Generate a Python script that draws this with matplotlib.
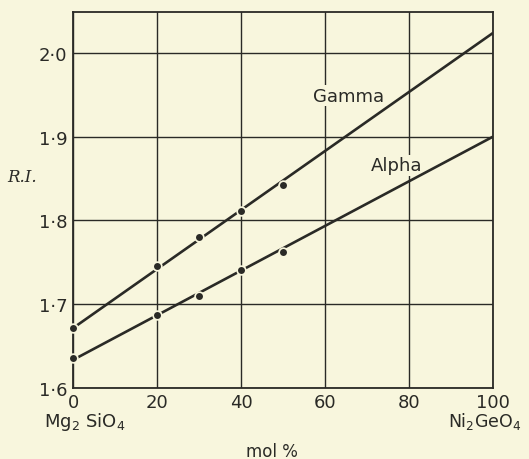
import matplotlib
matplotlib.use("Agg")
import matplotlib.pyplot as plt

# Data
mol_pct = [0, 20, 30, 40, 50]
gamma_pts = [1.671, 1.745, 1.780, 1.811, 1.842]
alpha_pts = [1.635, 1.687, 1.710, 1.740, 1.762]
line_x = [0, 100]
gamma_line = [1.671, 2.024]
alpha_line = [1.633, 1.900]
x_ticks = [0, 20, 40, 60, 80, 100]
y_ticks = [1.6, 1.7, 1.8, 1.9, 2.0]
y_tick_labels = ["1·6", "1·7", "1·8", "1·9", "2·0"]

bg = "#f8f6dd"
ink = "#2a2a26"

fig = plt.figure(figsize=(5.29, 4.60), dpi=100, facecolor=bg)
ax = fig.add_axes([0.138, 0.1554, 0.794, 0.8163], facecolor=bg)

ax.set_xlim(0, 100)
ax.set_ylim(1.6, 2.049)
ax.set_xticks(x_ticks)
ax.set_xticklabels([str(v) for v in x_ticks])
ax.set_yticks(y_ticks)
ax.set_yticklabels(y_tick_labels)
ax.tick_params(length=0, pad=4, labelsize=13, colors=ink)
ax.grid(True, color=ink, linewidth=1.0)
ax.set_axisbelow(True)
for s in ax.spines.values():
    s.set_color(ink)
    s.set_linewidth(1.3)

for ly, py in ((gamma_line, gamma_pts), (alpha_line, alpha_pts)):
    ax.plot(line_x, ly, color=ink, linewidth=1.9, solid_capstyle="butt", zorder=3)
    ax.plot(mol_pct, py, linestyle="none", marker="o", markersize=7.5,
            color=bg, markeredgewidth=0, zorder=4, clip_on=False)
    ax.plot(mol_pct, py, linestyle="none", marker="o", markersize=5,
            color=ink, markeredgewidth=0, zorder=5, clip_on=False)

ax.text(65.5, 1.949, "Gamma", fontsize=13, color=ink, ha="center", va="center",
        zorder=2, bbox=dict(facecolor=bg, edgecolor="none", pad=1))
ax.text(77.0, 1.866, "Alpha", fontsize=13, color=ink, ha="center", va="center",
        zorder=2, bbox=dict(facecolor=bg, edgecolor="none", pad=1))

fig.text(85 / 529, 1 - 427 / 460, r"Mg$_2$ SiO$_4$", fontsize=13, color=ink,
         ha="center", va="baseline")
fig.text(485 / 529, 1 - 427 / 460, r"Ni$_2$GeO$_4$", fontsize=12.5, color=ink,
         ha="center", va="baseline")
fig.text(272 / 529, 1 - 452 / 460, "mol %", fontsize=12, color=ink,
         ha="center", va="center")
fig.text(22 / 529, 1 - 178 / 460, "R.I.", fontsize=12, color=ink, style="italic",
         family="DejaVu Serif", ha="center", va="center")

fig.savefig("out.png", dpi=100, facecolor=bg)
